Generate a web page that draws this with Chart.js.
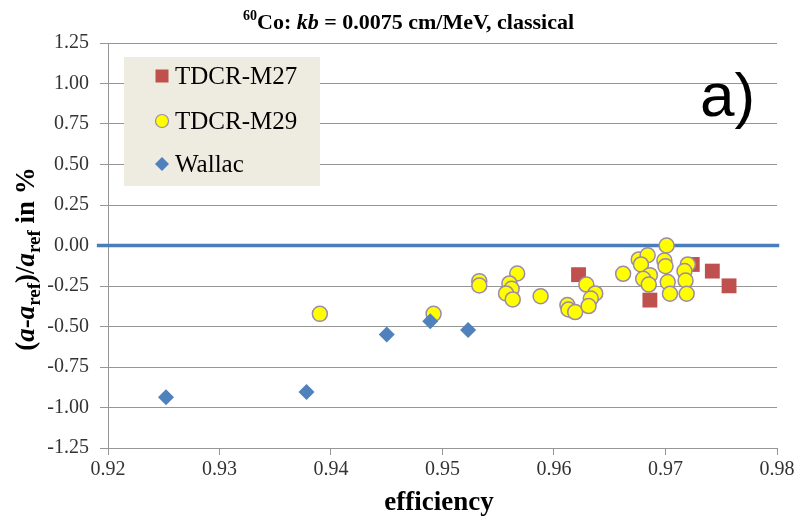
<!DOCTYPE html>
<html>
<head>
<meta charset="utf-8">
<script src="https://cdn.jsdelivr.net/npm/chart.js@4"></script>
<style>
  body { margin: 0; background: #fff; }
  canvas { display: block; }
</style>
</head>
<body>
<canvas id="chart" width="808" height="522"></canvas>
<script>
// efficiency vs relative deviation, three counters
const xTicks = [0.92, 0.93, 0.94, 0.95, 0.96, 0.97, 0.98];
const yTicks = [-1.25, -1.00, -0.75, -0.50, -0.25, 0.00, 0.25, 0.50, 0.75, 1.00, 1.25];

const m27Eff = [0.9622, 0.9686, 0.9724, 0.9742, 0.9757];
const m27Dev = [-0.180, -0.337, -0.117, -0.158, -0.249];

const m29Eff = [0.9390, 0.9492, 0.9533, 0.9533, 0.9567, 0.9560, 0.9562, 0.9557, 0.9563,
  0.9588, 0.9612, 0.9613, 0.9619, 0.9629, 0.9637, 0.9633, 0.9631, 0.9662, 0.9676,
  0.9684, 0.9678, 0.9686, 0.9680, 0.9685, 0.9701, 0.9699, 0.9700, 0.9702, 0.9704,
  0.9720, 0.9717, 0.9718, 0.9719];
const m29Dev = [-0.422, -0.422, -0.220, -0.247, -0.173, -0.234, -0.267, -0.296, -0.333,
  -0.313, -0.368, -0.395, -0.411, -0.241, -0.296, -0.327, -0.374, -0.175, -0.086,
  -0.060, -0.117, -0.183, -0.206, -0.241, 0.000, -0.093, -0.128, -0.226, -0.298,
  -0.117, -0.158, -0.216, -0.298];

const wallacEff = [0.9252, 0.9378, 0.9450, 0.9489, 0.9523];
const wallacDev = [-0.936, -0.905, -0.549, -0.467, -0.522];

// reference line at zero deviation
const refEff = [0.919, 0.9802];
const refDev = [0, 0];

const legendNames = ['TDCR-M27', 'TDCR-M29', 'Wallac'];

function toPoints(xs, ys) {
  return xs.map((x, i) => ({ x: x, y: ys[i] }));
}

const SERIF = '"Liberation Serif", "Times New Roman", serif';

// draws a run of text pieces with their own font and vertical shift
function drawRich(ctx, parts, x, y, align) {
  let total = 0;
  parts.forEach(p => { ctx.font = p.font; total += ctx.measureText(p.text).width; });
  let cx = align === 'center' ? x - total / 2 : x;
  parts.forEach(p => {
    ctx.font = p.font;
    ctx.fillText(p.text, cx, y + (p.dy || 0));
    cx += ctx.measureText(p.text).width;
  });
}

const textPlugin = {
  id: 'texts',
  afterDraw(chart) {
    const ctx = chart.ctx;
    ctx.save();
    ctx.fillStyle = '#000';
    ctx.textBaseline = 'alphabetic';
    ctx.textAlign = 'left';

    // title
    drawRich(ctx, [
      { text: '60', font: 'bold 14px ' + SERIF, dy: -9 },
      { text: 'Co: ', font: 'bold 22px ' + SERIF },
      { text: 'kb', font: 'italic bold 22px ' + SERIF },
      { text: ' = 0.0075 cm/MeV, classical', font: 'bold 22px ' + SERIF }
    ], 243, 29, 'left');

    // x axis title
    ctx.font = 'bold 27px ' + SERIF;
    ctx.textAlign = 'center';
    ctx.fillText('efficiency', 439, 510);
    ctx.textAlign = 'left';

    // y axis title
    ctx.save();
    ctx.translate(34, 259);
    ctx.rotate(-Math.PI / 2);
    const big = 'bold 27px ' + SERIF;
    const it = 'italic bold 27px ' + SERIF;
    const sub = 'bold 19px ' + SERIF;
    drawRich(ctx, [
      { text: '(', font: big },
      { text: 'a', font: it },
      { text: '-', font: big },
      { text: 'a', font: it },
      { text: 'ref', font: sub, dy: 6 },
      { text: ')/', font: big },
      { text: 'a', font: it },
      { text: 'ref', font: sub, dy: 6 },
      { text: ' in %', font: big }
    ], 0, 0, 'center');
    ctx.restore();

    // panel tag
    ctx.font = '62px "Liberation Sans", Arial, sans-serif';
    ctx.fillText('a)', 700, 116);

    // legend box
    ctx.fillStyle = '#EEECE1';
    ctx.fillRect(124, 57, 196, 129);
    const rows = [76, 121, 164];
    const mx = 162;
    // square
    ctx.fillStyle = '#C0504D';
    ctx.fillRect(mx - 6.5, rows[0] - 6.5, 13, 13);
    // circle
    ctx.beginPath();
    ctx.arc(mx, rows[1], 6.5, 0, Math.PI * 2);
    ctx.fillStyle = '#FFFF00';
    ctx.fill();
    ctx.lineWidth = 1.2;
    ctx.strokeStyle = '#9C8AA6';
    ctx.stroke();
    // diamond
    ctx.beginPath();
    ctx.moveTo(mx, rows[2] - 7);
    ctx.lineTo(mx + 7, rows[2]);
    ctx.lineTo(mx, rows[2] + 7);
    ctx.lineTo(mx - 7, rows[2]);
    ctx.closePath();
    ctx.fillStyle = '#4F81BD';
    ctx.fill();

    ctx.fillStyle = '#000';
    ctx.font = '25px ' + SERIF;
    ctx.textBaseline = 'middle';
    legendNames.forEach((name, i) => ctx.fillText(name, 175, rows[i] + 1));
    ctx.restore();
  }
};

const ctx = document.getElementById('chart').getContext('2d');
new Chart(ctx, {
  type: 'scatter',
  data: {
    datasets: [
      {
        label: legendNames[2],
        data: toPoints(wallacEff, wallacDev),
        pointStyle: 'rectRot',
        pointRadius: 8,
        backgroundColor: '#4F81BD',
        borderColor: '#4F81BD',
        borderWidth: 0,
        order: 1
      },
      {
        label: legendNames[1],
        data: toPoints(m29Eff, m29Dev),
        pointStyle: 'circle',
        pointRadius: 7.5,
        backgroundColor: '#FFFF00',
        borderColor: '#9C8AA6',
        borderWidth: 1.5,
        order: 2
      },
      {
        label: legendNames[0],
        data: toPoints(m27Eff, m27Dev),
        pointStyle: 'rect',
        pointRadius: 10.5,
        backgroundColor: '#C0504D',
        borderColor: '#C0504D',
        borderWidth: 0,
        order: 3
      },
      {
        type: 'line',
        label: 'ref',
        data: toPoints(refEff, refDev),
        borderColor: '#4A7EBB',
        borderWidth: 3.5,
        pointRadius: 0,
        showLine: true,
        clip: false,
        order: 4
      }
    ]
  },
  options: {
    responsive: false,
    animation: false,
    events: [],
    layout: { padding: { left: 0, top: 43, right: 31, bottom: 0 } },
    plugins: {
      legend: { display: false },
      tooltip: { enabled: false }
    },
    scales: {
      x: {
        type: 'linear',
        min: xTicks[0],
        max: xTicks[xTicks.length - 1],
        afterBuildTicks(scale) { scale.ticks = xTicks.map(v => ({ value: v })); },
        afterFit(scale) { scale.height = 74; },
        grid: { drawOnChartArea: false, drawTicks: true, tickLength: 7, color: '#969696', lineWidth: 1 },
        border: { color: '#969696', width: 1 },
        ticks: {
          padding: 3,
          color: '#333',
          font: { family: SERIF, size: 20 },
          callback: v => v.toFixed(2)
        }
      },
      y: {
        type: 'linear',
        min: yTicks[0],
        max: yTicks[yTicks.length - 1],
        afterBuildTicks(scale) { scale.ticks = yTicks.map(v => ({ value: v })); },
        afterFit(scale) { scale.width = 108; },
        grid: { drawTicks: true, tickLength: 8, color: '#969696', lineWidth: 1 },
        border: { color: '#969696', width: 1 },
        ticks: {
          padding: 11,
          color: '#333',
          font: { family: SERIF, size: 20 },
          callback: v => v.toFixed(2)
        }
      }
    }
  },
  plugins: [textPlugin]
});
</script>
</body>
</html>
